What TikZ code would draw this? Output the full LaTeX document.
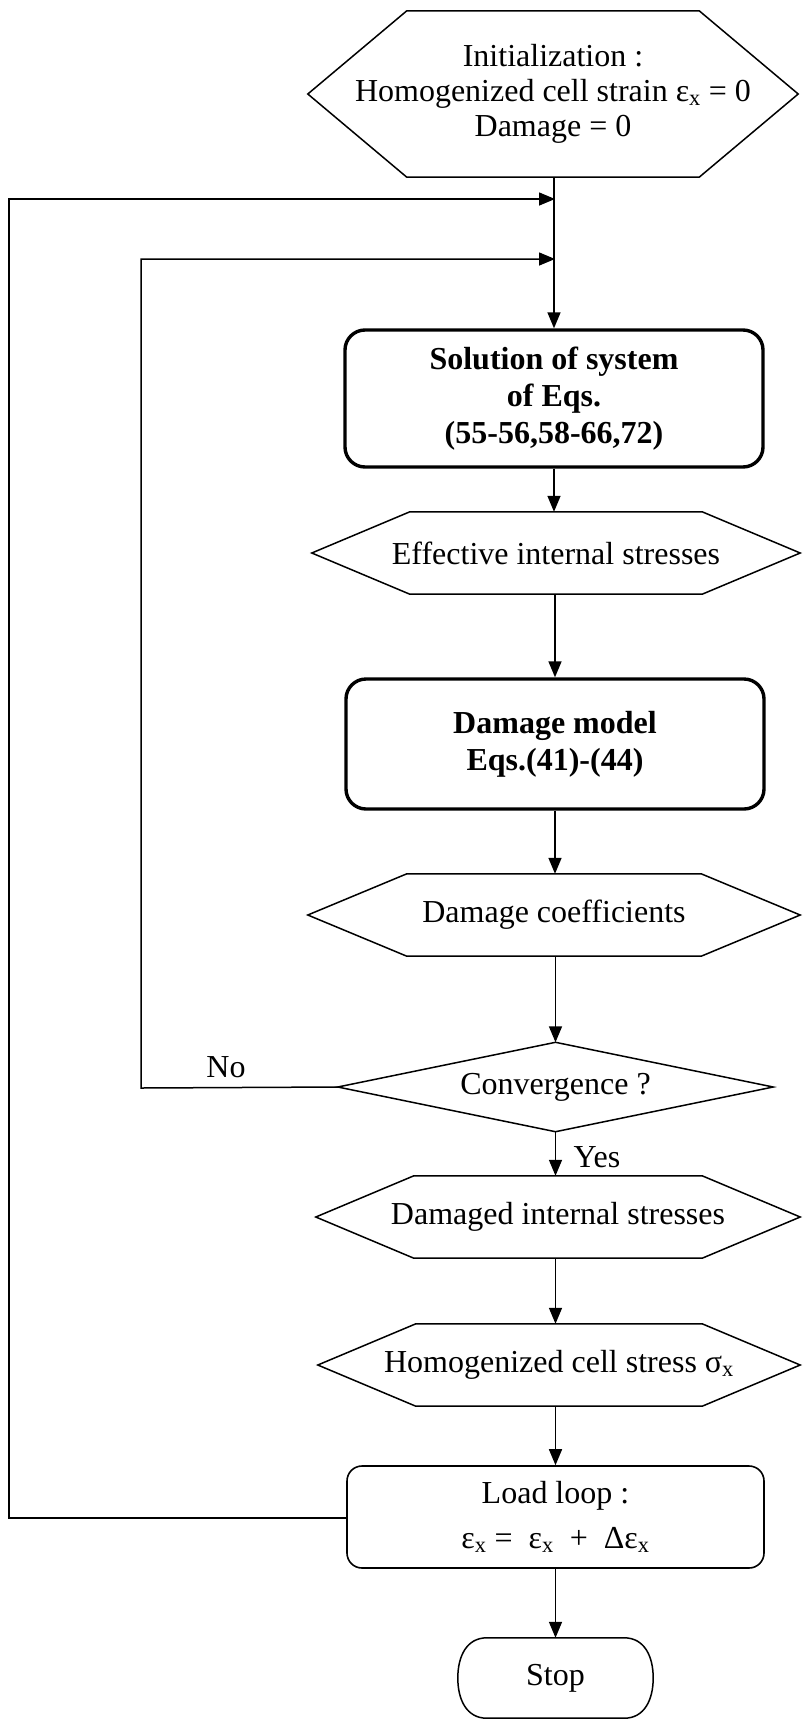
\documentclass[tikz,border=0pt]{standalone}
\usepackage{fontspec}
\setmainfont{Liberation Serif}
\usetikzlibrary{arrows.meta}
\newcommand\hexdraw[2]{\draw[thinline] (#1.west) -- ([xshift=#2]#1.north west) -- ([xshift=-#2]#1.north east) -- (#1.east) -- ([xshift=-#2]#1.south east) -- ([xshift=#2]#1.south west) -- cycle;}
\newcommand\sx{\textsubscript{x}}
\begin{document}
\begin{tikzpicture}[x=1pt,y=-1pt,
  thinline/.style={line width=1.5pt},
  txt/.style={font=\fontsize{32}{35}\selectfont, align=center, inner sep=0pt},
  hexbox/.style={txt, minimum height=82pt},
  boldbox/.style={txt, draw, line width=3.4pt, rounded corners=20pt, minimum width=418pt, font=\fontsize{32}{37}\selectfont\bfseries},
  arr/.style={thinline, -{Triangle[length=16pt,width=13pt]}},
  ln/.style={thinline}]
\useasboundingbox (0,0) rectangle (803,1721);

% nodes
\node[txt, minimum width=490pt, minimum height=166pt] (init) at (553,94) {Initialization :\\Homogenized cell strain ε\sx{} = 0\\Damage = 0};
\hexdraw{init}{99pt}

\node[boldbox, minimum height=137pt] (sol) at (554,398.5) {Solution of system\\of Eqs.\\(55-56,58-66,72)};

\node[hexbox, minimum width=488pt] (eff) at (556,553) {Effective internal stresses};
\hexdraw{eff}{98pt}

\node[boldbox, minimum height=130pt] (dmg) at (555,744) {Damage model\\Eqs.(41)-(44)};

\node[hexbox, minimum width=492pt] (coef) at (554,915) {Damage coefficients};
\hexdraw{coef}{99pt}

\node[txt, minimum width=435pt, minimum height=89pt] (conv) at (555.5,1087) {Convergence ?};
\draw[thinline] (conv.west) -- (conv.north) -- (conv.east) -- (conv.south) -- cycle;

\node[hexbox, minimum width=484pt] (dam) at (558,1217) {Damaged internal stresses};
\hexdraw{dam}{98pt}

\node[hexbox, minimum width=482pt] (hom) at (559,1365) {Homogenized cell stress σ\sx};
\hexdraw{hom}{98pt}

\node[txt, draw, line width=1.6pt, rounded corners=15pt, minimum width=417pt, minimum height=102pt, font=\fontsize{32}{45}\selectfont] (load) at (555.5,1517) {Load loop :\\ε\sx{} =~~ε\sx~~+~~Δε\sx};

\node[txt, minimum width=195pt, minimum height=80pt] (stop) at (555.5,1678) {Stop};
\draw[thinline] ([xshift=29pt]stop.north west) -- ([xshift=-29pt]stop.north east)
  .. controls ([xshift=-9pt]stop.north east) and ([yshift=22pt]stop.east) .. (stop.east)
  .. controls ([yshift=-22pt]stop.east) and ([xshift=-9pt]stop.south east) .. ([xshift=-29pt]stop.south east)
  -- ([xshift=29pt]stop.south west)
  .. controls ([xshift=9pt]stop.south west) and ([yshift=-22pt]stop.west) .. (stop.west)
  .. controls ([yshift=22pt]stop.west) and ([xshift=9pt]stop.north west) .. cycle;

% coordinates
\coordinate (j1) at (555,199);
\coordinate (j2) at (555,259);
\coordinate (c1) at (9,1518);
\coordinate (c1t) at (9,199);
\coordinate (c2) at (141,1088);
\coordinate (c2t) at (141,259);

% connectors
\draw[arr] (init.south -| sol.north) -- (sol.north);
\draw[arr] (sol.south) -- (sol.south |- eff.north);
\draw[arr] (eff.south -| dmg.north) -- (dmg.north);
\draw[arr] (dmg.south) -- (dmg.south |- coef.north);
\draw[arr] (coef.south -| conv.north) -- (conv.north);
\draw[arr] (conv.south) -- (conv.south |- dam.north);
\node[txt] (yes) at (597,1157) {Yes};
\draw[arr] (dam.south -| conv.south) -- (conv.south |- hom.north);
\draw[arr] (hom.south -| load.north) -- (load.north);
\draw[arr] (load.south) -- (load.south |- stop.north);

\draw[arr] (load.west |- c1) -- (c1) -- (c1t) -- (j1);
\draw[arr] (conv.west) -- (c2) -- (c2t) -- (j2);
\node[txt] (no) at (226,1067) {No};
\end{tikzpicture}
\end{document}
